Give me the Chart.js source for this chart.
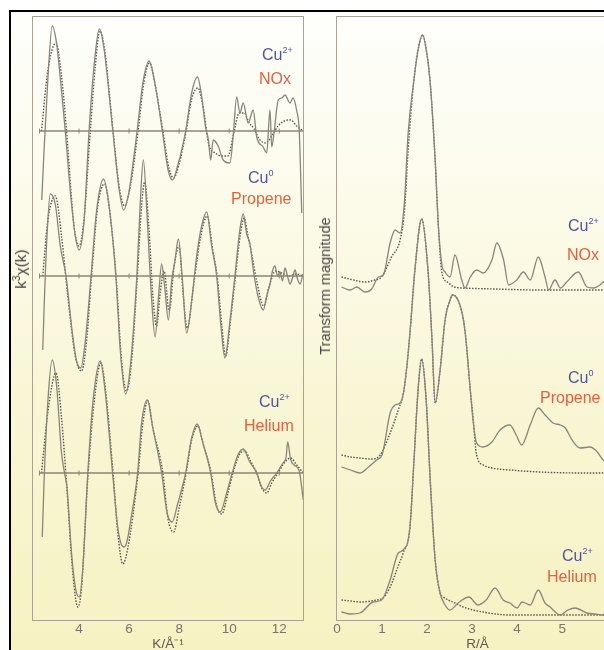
<!DOCTYPE html>
<html>
<head>
<meta charset="utf-8">
<script src="https://cdn.jsdelivr.net/npm/chart.js@4.4.1/dist/chart.umd.min.js"></script>
<style>
  html, body { margin: 0; padding: 0; background: #fff; overflow: hidden; }
  #page { position: relative; width: 604px; height: 650px; overflow: hidden; background: #fff;
          font-family: "Liberation Sans", Arial, sans-serif; }
  #bg { position: absolute; left: 11px; top: 12px; right: 0; bottom: 0;
        background: linear-gradient(#fefefc 0%, #fcfbea 30%, #f9f6d6 60%, #f6f2c2 100%); }
  .rule { position: absolute; background: #000; }
  .panel { position: absolute; top: 0; width: 320px; height: 650px; }
  .lab { position: absolute; font-size: 16px; line-height: 16px; white-space: nowrap; }
  .cu { color: #5353a4; }
  .gas { color: #e4613f; }
  .sup { font-size: 9px; position: relative; top: -7px; }
  .ytitle { position: absolute; font-size: 14.5px; line-height: 16px; color: #474644; white-space: nowrap;
            transform: translate(-50%, -50%) rotate(-90deg); }
</style>
</head>
<body>
<div id="page">
  <div id="bg"></div>
  <div class="rule" style="left:9px;top:10px;width:595px;height:2px"></div>
  <div class="rule" style="left:9px;top:10px;width:2px;height:640px"></div>

  <div class="panel" style="left:0"><canvas id="kspace" width="320" height="650"></canvas></div>
  <div class="panel" style="left:320px"><canvas id="rspace" width="320" height="650"></canvas></div>

  <div class="ytitle" style="left:22px;top:269px;font-size:15.5px;color:#3f3e3b">k<span class="sup" style="font-size:10px;top:-6px">3</span>χ(k)</div>
  <div class="ytitle" style="left:325px;top:286px">Transform magnitude</div>

  <div class="lab cu"  style="left:262px;top:46.5px">Cu<span class="sup">2+</span></div>
  <div class="lab gas" style="left:259px;top:70.5px">NOx</div>
  <div class="lab cu"  style="left:248px;top:169.5px">Cu<span class="sup">0</span></div>
  <div class="lab gas" style="left:231px;top:190.5px">Propene</div>
  <div class="lab cu"  style="left:259px;top:393.5px">Cu<span class="sup">2+</span></div>
  <div class="lab gas" style="left:244px;top:418px">Helium</div>

  <div class="lab cu"  style="left:568px;top:217.5px">Cu<span class="sup">2+</span></div>
  <div class="lab gas" style="left:567px;top:246.5px">NOx</div>
  <div class="lab cu"  style="left:568px;top:369.5px">Cu<span class="sup">0</span></div>
  <div class="lab gas" style="left:540px;top:389.5px">Propene</div>
  <div class="lab cu"  style="left:562px;top:547.5px">Cu<span class="sup">2+</span></div>
  <div class="lab gas" style="left:547px;top:568.5px">Helium</div>
</div>

<script>
// ---- k-space (left): k values and k^3 chi(k), offset from each trace's own zero line
const kTicks = [4, 6, 8, 10, 12];
const kZeroStart = 2.42;

const kNOx = [2.51, 2.6, 2.75, 2.93, 3.1, 3.3, 3.45, 3.65, 3.85, 4.0, 4.2, 4.4, 4.6, 4.81, 5.0, 5.35, 5.6, 5.78, 6.0, 6.32,
  6.55, 6.8, 7.05, 7.33, 7.55, 7.73, 7.95, 8.26, 8.5, 8.73, 8.9, 9.05, 9.17, 9.26, 9.36, 9.56, 9.76, 10.03, 10.16, 10.3,
  10.43, 10.56, 10.76, 10.96, 11.1, 11.36, 11.5, 11.63, 11.7, 11.8, 11.96, 12.1, 12.23, 12.43, 12.55, 12.7, 12.8, 12.9];
const chiNOx = [-69, -20, 50, 105, 88, 40, 0, -60, -105, -119, -90, 0, 65, 102, 82, 0, -58, -79, -60, 0,
  48, 70, 45, 0, -38, -49, -34, 0, 38, 54, 35, 5, -9, -29, -9, -15, -29, -32, -5, 34,
  18, 28, 8, 21, -6, -16, -22, 21, -16, 0, 31, 33, 36, 28, 33, 20, 0, -82];
const kNOxFit = [2.5, 2.75, 3.08, 3.3, 3.5, 3.8, 4.0, 4.2, 4.45, 4.65, 4.83, 5.0, 5.36, 5.6, 5.82, 6.05, 6.36, 6.6, 6.82, 7.05,
  7.35, 7.6, 7.78, 8.0, 8.28, 8.5, 8.75, 8.95, 9.2, 9.45, 9.7, 9.95, 10.2, 10.4, 10.6, 10.8, 11.0, 11.2, 11.45, 11.7,
  11.95, 12.2, 12.45, 12.7, 12.95];
const chiNOxFit = [0, 60, 88, 55, 0, -95, -115, -88, 0, 65, 100, 85, 0, -55, -75, -55, 0, 50, 68, 45,
  0, -38, -47, -33, 0, 32, 43, 25, -15, -22, -25, -25, 0, 18, 18, 8, 2, -8, -12, -5,
  5, 10, 11, 5, 0];

const kProp = [2.55, 2.62, 2.72, 2.85, 3.05, 3.25, 3.48, 3.7, 3.9, 4.07, 4.25, 4.48, 4.7, 4.98, 5.2, 5.47, 5.65, 5.86, 6.05, 6.31,
  6.45, 6.57, 6.72, 6.88, 7.04, 7.18, 7.3, 7.42, 7.57, 7.7, 7.83, 7.97, 8.12, 8.3, 8.5, 8.7, 8.9, 9.1, 9.3, 9.5,
  9.67, 9.83, 10.03, 10.23, 10.42, 10.56, 10.7, 10.83, 10.97, 11.15, 11.36, 11.5, 11.63, 11.73, 11.83, 11.93, 12.03, 12.13, 12.23, 12.33,
  12.43, 12.53, 12.63, 12.73, 12.83, 12.95];
const chiProp = [-74, -20, 40, 82, 72, 30, 0, -50, -85, -92, -65, 0, 65, 97, 70, 0, -75, -118, -90, 0,
  75, 116, 60, -15, -61, -20, 12, -10, -44, -5, 15, 37, 0, -57, -25, 20, 50, 64, 30, 0,
  -50, -82, -45, 0, 45, 62, 42, 32, 5, -20, -34, -20, -8, 5, 10, 0, 4, -5, 8, 0,
  -8, -2, 6, -3, -8, 2];
const kPropFit = [2.55, 2.75, 3.05, 3.3, 3.55, 3.85, 4.1, 4.3, 4.5, 4.75, 5.02, 5.2, 5.48, 5.7, 5.9, 6.1, 6.33, 6.5, 6.62, 6.8,
  6.95, 7.1, 7.25, 7.4, 7.6, 7.8, 8.0, 8.15, 8.32, 8.6, 8.85, 9.12, 9.35, 9.52, 9.7, 9.86, 10.05, 10.25, 10.45, 10.6,
  10.75, 10.9, 11.1, 11.38, 11.6, 11.85, 12.1, 12.4, 12.7, 12.95];
const chiPropFit = [0, 55, 80, 40, -20, -80, -95, -65, 0, 70, 92, 70, 0, -85, -115, -85, 0, 70, 94, 45,
  -20, -50, -15, 5, -35, 10, 30, -15, -52, -5, 38, 60, 25, 0, -48, -80, -45, 0, 42, 58,
  40, 22, -5, -30, -10, 5, 3, 0, 2, 0];

const kHe = [2.53, 2.6, 2.75, 2.93, 3.1, 3.3, 3.42, 3.52, 3.7, 3.88, 4.01, 4.15, 4.35, 4.55, 4.85, 5.05, 5.34, 5.55, 5.7, 5.8,
  5.92, 6.08, 6.34, 6.5, 6.73, 6.95, 7.3, 7.52, 7.72, 7.95, 8.26, 8.5, 8.72, 8.95, 9.26, 9.45, 9.64, 9.9, 10.12, 10.35,
  10.57, 10.8, 11.1, 11.3, 11.44, 11.65, 11.9, 12.15, 12.27, 12.34, 12.45, 12.6, 12.8, 12.96];
const chiHe = [-64, -10, 70, 113, 88, 20, 0, -15, -80, -118, -124, -95, 0, 70, 112, 80, 0, -55, -72, -74,
  -68, -45, 0, 50, 73, 45, 0, -40, -49, -30, 0, 35, 49, 30, 0, -30, -39, -20, 0, 18,
  24, 12, 0, -14, -17, -8, 0, 10, 15, 31, 14, 8, 2, -27];
const kHeFit = [2.5, 2.75, 3.08, 3.3, 3.5, 3.75, 3.95, 4.1, 4.35, 4.6, 4.87, 5.05, 5.36, 5.55, 5.75, 5.95, 6.36, 6.55, 6.75, 6.95,
  7.35, 7.55, 7.78, 8.0, 8.28, 8.5, 8.75, 8.95, 9.28, 9.5, 9.7, 9.95, 10.15, 10.4, 10.62, 10.85, 11.1, 11.3, 11.5, 11.7,
  11.95, 12.2, 12.45, 12.7, 12.95];
const chiHeFit = [0, 60, 100, 55, -10, -100, -134, -115, -5, 70, 110, 85, 0, -60, -91, -75, 0, 50, 72, 45,
  0, -45, -59, -35, 0, 33, 47, 30, 0, -33, -41, -20, 0, 18, 22, 12, 0, -15, -20, -10,
  0, 10, 15, 8, 0];

// ---- R-space (right): Fourier transform magnitude above each trace's baseline
const rTicks = [0, 1, 2, 3, 4, 5];

const rNOx = [0.1, 0.29, 0.44, 0.62, 0.77, 0.92, 1.03, 1.18, 1.29, 1.4, 1.5, 1.58, 1.7, 1.8, 1.9, 2.0, 2.07, 2.18, 2.25, 2.33,
  2.4, 2.51, 2.62, 2.77, 2.84, 2.96, 3.1, 3.25, 3.44, 3.55, 3.7, 3.81, 3.99, 4.14, 4.29, 4.47, 4.62, 4.7, 4.84, 4.96,
  5.1, 5.36, 5.55, 5.7, 5.84, 5.92, 6.1, 6.25];
const ftNOx = [3, 0, 3, -2, 1, 13, 15, 47, 60, 57, 90, 157, 207, 240, 255, 235, 207, 130, 65, 25,
  18, 13, 35, 10, 2, 13, 20, 17, 30, 47, 30, 5, 10, 18, 10, 33, 13, 0, 10, 2,
  8, 18, 3, 2, 5, 8, 3, 2];
const rNOxFit = [0.1, 0.36, 0.62, 0.84, 0.99, 1.21, 1.4, 1.5, 1.58, 1.7, 1.8, 1.9, 2.0, 2.07, 2.18, 2.25, 2.33, 2.45, 2.6, 2.8,
  3.5, 4.5, 5.5, 6.25];
const ftNOxFit = [13, 10, 8, 10, 13, 33, 50, 80, 140, 207, 240, 255, 235, 207, 130, 65, 17, 8, 3, 2,
  1, 0, 0, 0];

const rProp = [0.1, 0.3, 0.51, 0.7, 0.88, 1.0, 1.18, 1.29, 1.4, 1.48, 1.55, 1.62, 1.73, 1.88, 2.02, 2.11, 2.18, 2.29, 2.4, 2.51,
  2.57, 2.73, 2.84, 2.96, 3.02, 3.1, 3.24, 3.44, 3.62, 3.84, 3.98, 4.1, 4.29, 4.47, 4.62, 4.8, 4.96, 5.07, 5.22, 5.4,
  5.62, 5.78, 5.91, 6.1, 6.25];
const ftProp = [5, 2, -1, 5, 12, 17, 59, 67, 69, 80, 105, 139, 202, 253, 202, 132, 69, 102, 152, 172,
  177, 167, 142, 82, 52, 29, 25, 30, 42, 47, 37, 27, 47, 64, 57, 49, 47, 44, 32, 24,
  25, 20, 12, 8, 5];
const rPropFit = [0.1, 0.3, 0.51, 0.77, 0.96, 1.18, 1.36, 1.48, 1.55, 1.62, 1.73, 1.88, 2.02, 2.11, 2.18, 2.29, 2.4, 2.51, 2.57, 2.73,
  2.84, 2.96, 3.02, 3.1, 3.25, 3.44, 3.84, 4.5, 5.5, 6.25];
const ftPropFit = [17, 15, 14, 13, 17, 39, 62, 80, 105, 139, 202, 253, 202, 132, 69, 102, 152, 172, 177, 167,
  142, 82, 55, 17, 7, 4, 2, 0, -1, -1];

const rHe = [0.1, 0.3, 0.51, 0.8, 0.99, 1.18, 1.36, 1.47, 1.62, 1.71, 1.8, 1.88, 1.98, 2.07, 2.18, 2.29, 2.4, 2.51, 2.69, 2.93,
  3.13, 3.31, 3.51, 3.69, 3.84, 4.0, 4.11, 4.29, 4.47, 4.62, 4.73, 4.96, 5.13, 5.29, 5.55, 5.73, 5.91, 6.1, 6.25];
const ftHe = [3, 1, 2, 13, 15, 35, 62, 65, 88, 155, 225, 256, 215, 135, 55, 22, 10, 5, 12, 18,
  10, 15, 27, 15, 12, 7, 13, 10, 25, 12, 8, 0, 5, 7, 2, 1, 0, 1, 0];
const rHeFit = [0.1, 0.3, 0.51, 0.88, 1.02, 1.18, 1.36, 1.47, 1.62, 1.71, 1.8, 1.88, 1.98, 2.07, 2.18, 2.29, 2.36, 2.62, 2.8, 3.24,
  3.84, 5.0, 6.25];
const ftHeFit = [15, 14, 13, 15, 17, 28, 49, 62, 88, 155, 225, 256, 215, 135, 55, 22, 18, 12, 8, 3,
  0, 0, 0];

// vertical offsets of the stacked traces (NOx, Propene, Helium)
const kOffsets = [489, 344, 147];
const rOffsets = [330, 148, 5];

const fam = '"Liberation Sans", Arial, sans-serif';
const solidCol = '#8a857b';
const fitCol = '#57544d';
const zeroCol = '#8e8576';

const pts = (xs, ys, base) => xs.map((x, i) => ({ x: x, y: ys[i] + base }));

function trace(xs, ys, base, fit) {
  return {
    data: pts(xs, ys, base),
    borderColor: fit ? fitCol : solidCol,
    borderWidth: fit ? 1.4 : 1.3,
    borderDash: fit ? [1.5, 1.5] : [],
    pointRadius: 0,
    cubicInterpolationMode: 'monotone',
    fill: false
  };
}

function zeroLine(base, kEnd) {
  const xs = [kZeroStart].concat(kTicks, [kEnd]);
  return {
    data: xs.map(x => ({ x: x, y: base })),
    borderColor: zeroCol,
    borderWidth: 1.3,
    pointStyle: 'line',
    pointRotation: 90,
    pointRadius: xs.map((x, i) => (i === xs.length - 1 ? 0 : 2.5)),
    pointBorderColor: zeroCol,
    pointBorderWidth: 1,
    tension: 0
  };
}

// thin box round the plot area
const frame = {
  id: 'frame',
  beforeDatasetsDraw(chart) {
    const { ctx, chartArea: a } = chart;
    ctx.save();
    ctx.strokeStyle = '#aaa395';
    ctx.lineWidth = 1;
    ctx.strokeRect(a.left - 0.5, a.top - 0.5, a.right - a.left + 1, a.bottom - a.top + 1);
    ctx.restore();
  }
};

function xAxis(min, max, ticks, title) {
  return {
    type: 'linear',
    min: min,
    max: max,
    afterBuildTicks: s => { s.ticks = ticks.map(v => ({ value: v })); },
    afterFit: s => { s.height = 30; },
    grid: { display: false, drawTicks: false },
    border: { display: false },
    ticks: { color: '#7a7468', font: { size: 13.5, family: fam }, padding: 1, maxRotation: 0, autoSkip: false },
    title: { display: true, text: title, color: '#5d5850', font: { size: 13.5, family: fam }, padding: { top: 0, bottom: -2 } }
  };
}

function options(xScale, pad) {
  return {
    responsive: false,
    animation: false,
    layout: { padding: pad },
    plugins: { legend: { display: false }, tooltip: { enabled: false } },
    scales: {
      x: xScale,
      y: { display: false, min: 0, max: 603 }
    }
  };
}

const kMin = 2.16, kMax = 12.95;
new Chart(document.getElementById('kspace'), {
  type: 'line',
  data: {
    datasets: [
      zeroLine(kOffsets[0], kMax), zeroLine(kOffsets[1], kMax), zeroLine(kOffsets[2], kMax),
      trace(kNOx, chiNOx, kOffsets[0], false), trace(kNOxFit, chiNOxFit, kOffsets[0], true),
      trace(kProp, chiProp, kOffsets[1], false), trace(kPropFit, chiPropFit, kOffsets[1], true),
      trace(kHe, chiHe, kOffsets[2], false), trace(kHeFit, chiHeFit, kOffsets[2], true)
    ]
  },
  options: options(xAxis(kMin, kMax, kTicks, 'K/Å⁻¹'), { left: 33, right: 17, top: 17, bottom: 0 }),
  plugins: [frame]
});

new Chart(document.getElementById('rspace'), {
  type: 'line',
  data: {
    datasets: [
      trace(rNOx, ftNOx, rOffsets[0], false), trace(rNOxFit, ftNOxFit, rOffsets[0], true),
      trace(rProp, ftProp, rOffsets[1], false), trace(rPropFit, ftPropFit, rOffsets[1], true),
      trace(rHe, ftHe, rOffsets[2], false), trace(rHeFit, ftHeFit, rOffsets[2], true)
    ]
  },
  options: options(xAxis(0, 6.24, rTicks, 'R/Å'), { left: 17, right: 22, top: 17, bottom: 0 }),
  plugins: [frame]
});
</script>
</body>
</html>
